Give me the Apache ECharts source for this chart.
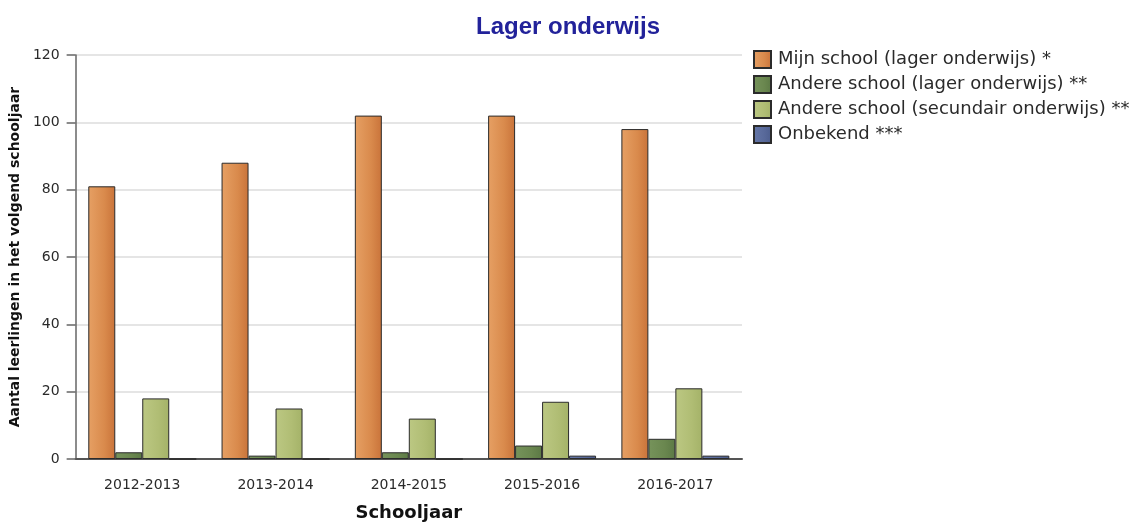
<!DOCTYPE html>
<html>
<head>
<meta charset="utf-8">
<script src="https://cdn.jsdelivr.net/npm/echarts@6/dist/echarts.min.js"></script>
<style>
html,body{margin:0;padding:0;background:#fff;}
#chart{width:1136px;height:527px;}
</style>
</head>
<body>
<div id="chart"></div>
<script>
var categories = ['2012-2013', '2013-2014', '2014-2015', '2015-2016', '2016-2017'];
var mijnSchool = [81, 88, 102, 102, 98];
var andereLager = [2, 1, 2, 4, 6];
var andereSecundair = [18, 15, 12, 17, 21];
var onbekend = [0, 0, 0, 1, 1];
var seriesNames = ['Mijn school (lager onderwijs) *', 'Andere school (lager onderwijs) **', 'Andere school (secundair onderwijs) **', 'Onbekend ***'];

function grad(c0, c1, c2) {
  return new echarts.graphic.LinearGradient(0, 0, 1, 0, [
    {offset: 0, color: c0}, {offset: 0.6, color: c1}, {offset: 1, color: c2}
  ]);
}

var chart = echarts.init(document.getElementById('chart'));
var barStyle = function (color) {
  return {color: color, borderColor: '#2b2b2b', borderWidth: 1};
};
chart.setOption({
  animation: false,
  title: {
    text: 'Lager onderwijs',
    left: 'center',
    top: 10,
    textStyle: {fontFamily: 'Liberation Sans, Arial, sans-serif', fontSize: 24, fontWeight: 'bold', color: '#22229a'}
  },
  legend: {
    orient: 'vertical',
    left: 748,
    top: 45,
    itemWidth: 17,
    itemHeight: 17,
    itemGap: 6,
    icon: 'rect',
    textStyle: {fontFamily: 'DejaVu Sans, Verdana, sans-serif', fontSize: 18, color: '#2a2a2a', lineHeight: 18, padding: [0, 0, 0, 2]},
    data: seriesNames
  },
  grid: {left: 75, top: 55, width: 667, height: 404},
  xAxis: {
    type: 'category',
    data: categories,
    name: 'Schooljaar',
    nameLocation: 'middle',
    nameGap: 45,
    nameTextStyle: {fontFamily: 'DejaVu Sans, Verdana, sans-serif', fontSize: 18, fontWeight: 'bold', color: '#111'},
    axisLine: {lineStyle: {color: '#555', width: 2}},
    axisTick: {alignWithLabel: true, length: 9, lineStyle: {color: '#555', width: 1.5}},
    axisLabel: {fontFamily: 'DejaVu Sans, Verdana, sans-serif', fontSize: 14, color: '#2a2a2a', margin: 19}
  },
  yAxis: {
    type: 'value',
    min: 0,
    max: 120,
    interval: 20,
    name: 'Aantal leerlingen in het volgend schooljaar',
    nameLocation: 'middle',
    nameGap: 45,
    nameTextStyle: {fontFamily: 'DejaVu Sans, Verdana, sans-serif', fontSize: 14, fontWeight: 'bold', color: '#111'},
    axisLine: {show: true, lineStyle: {color: '#666', width: 1.5}},
    axisTick: {show: true, length: 9, lineStyle: {color: '#666', width: 1.5}},
    axisLabel: {fontFamily: 'DejaVu Sans, Verdana, sans-serif', fontSize: 14, color: '#2a2a2a', margin: 16},
    splitLine: {lineStyle: {color: '#dcdcdc', width: 1.5}}
  },
  series: [
    {name: seriesNames[0], type: 'bar', data: mijnSchool, barGap: '0%', barCategoryGap: '19%',
     itemStyle: barStyle(grad('#e6a064', '#d98a4c', '#c9733a'))},
    {name: seriesNames[1], type: 'bar', data: andereLager, barGap: '0%', barCategoryGap: '19%',
     itemStyle: barStyle(grad('#76935b', '#6a874f', '#5c7945'))},
    {name: seriesNames[2], type: 'bar', data: andereSecundair, barGap: '0%', barCategoryGap: '19%',
     itemStyle: barStyle(grad('#bcc883', '#b0bd74', '#a4b268'))},
    {name: seriesNames[3], type: 'bar', data: onbekend, barGap: '0%', barCategoryGap: '19%',
     itemStyle: barStyle(grad('#6577a8', '#58699a', '#4c5d8d'))}
  ]
});
</script>
</body>
</html>
